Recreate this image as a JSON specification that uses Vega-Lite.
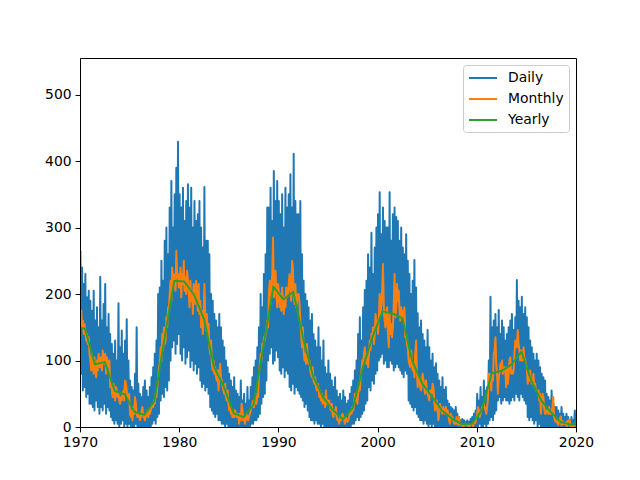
{
  "$schema": "https://vega.github.io/schema/vega-lite/v6.json",
  "width": 496,
  "height": 369,
  "autosize": {"type": "none"},
  "padding": {"left": 80, "top": 58, "right": 64, "bottom": 53},
  "background": "white",
  "config": {
    "view": {"stroke": "black", "strokeWidth": 1},
    "font": "DejaVu Sans"
  },
  "datasets": {
    "months": [
      {"t":1970.04,"d":265,"m":165},{"t":1970.13,"d":80,"m":175},{"t":1970.21,"d":240,"m":150},{"t":1970.29,"d":55,"m":160},{"t":1970.38,"d":215,"m":140},{"t":1970.46,"d":60,"m":155},{"t":1970.54,"d":230,"m":145},{"t":1970.63,"d":45,"m":130},{"t":1970.71,"d":195,"m":140},{"t":1970.79,"d":50,"m":125},{"t":1970.88,"d":205,"m":135},{"t":1970.96,"d":35,"m":110},
      {"t":1971.04,"d":190,"m":100},{"t":1971.13,"d":35,"m":85},{"t":1971.21,"d":175,"m":110},{"t":1971.29,"d":30,"m":95},{"t":1971.38,"d":205,"m":80},{"t":1971.46,"d":25,"m":105},{"t":1971.54,"d":160,"m":90},{"t":1971.63,"d":40,"m":75},{"t":1971.71,"d":180,"m":100},{"t":1971.79,"d":30,"m":85},{"t":1971.88,"d":150,"m":110},{"t":1971.96,"d":20,"m":95},
      {"t":1972.04,"d":226,"m":90},{"t":1972.13,"d":30,"m":105},{"t":1972.21,"d":160,"m":85},{"t":1972.29,"d":25,"m":115},{"t":1972.38,"d":185,"m":100},{"t":1972.46,"d":35,"m":95},{"t":1972.54,"d":215,"m":110},{"t":1972.63,"d":20,"m":80},{"t":1972.71,"d":150,"m":105},{"t":1972.79,"d":30,"m":95},{"t":1972.88,"d":170,"m":90},{"t":1972.96,"d":25,"m":100},
      {"t":1973.04,"d":140,"m":60},{"t":1973.13,"d":15,"m":70},{"t":1973.21,"d":125,"m":55},{"t":1973.29,"d":10,"m":45},{"t":1973.38,"d":110,"m":65},{"t":1973.46,"d":5,"m":50},{"t":1973.54,"d":130,"m":40},{"t":1973.63,"d":10,"m":60},{"t":1973.71,"d":100,"m":55},{"t":1973.79,"d":5,"m":45},{"t":1973.88,"d":186,"m":50},{"t":1973.96,"d":0,"m":40},
      {"t":1974.04,"d":120,"m":35},{"t":1974.13,"d":5,"m":45},{"t":1974.21,"d":145,"m":40},{"t":1974.29,"d":10,"m":50},{"t":1974.38,"d":110,"m":55},{"t":1974.46,"d":0,"m":40},{"t":1974.54,"d":130,"m":70},{"t":1974.63,"d":5,"m":65},{"t":1974.71,"d":162,"m":55},{"t":1974.79,"d":0,"m":45},{"t":1974.88,"d":100,"m":40},{"t":1974.96,"d":5,"m":50},
      {"t":1975.04,"d":70,"m":20},{"t":1975.13,"d":0,"m":15},{"t":1975.21,"d":60,"m":25},{"t":1975.29,"d":0,"m":10},{"t":1975.38,"d":55,"m":30},{"t":1975.46,"d":0,"m":20},{"t":1975.54,"d":80,"m":45},{"t":1975.63,"d":5,"m":35},{"t":1975.71,"d":150,"m":20},{"t":1975.79,"d":0,"m":15},{"t":1975.88,"d":65,"m":20},{"t":1975.96,"d":0,"m":15},
      {"t":1976.04,"d":50,"m":10},{"t":1976.13,"d":0,"m":15},{"t":1976.21,"d":45,"m":25},{"t":1976.29,"d":0,"m":30},{"t":1976.38,"d":60,"m":15},{"t":1976.46,"d":0,"m":20},{"t":1976.54,"d":70,"m":10},{"t":1976.63,"d":0,"m":15},{"t":1976.71,"d":55,"m":20},{"t":1976.79,"d":0,"m":25},{"t":1976.88,"d":45,"m":15},{"t":1976.96,"d":0,"m":25},
      {"t":1977.04,"d":60,"m":20},{"t":1977.13,"d":0,"m":25},{"t":1977.21,"d":75,"m":30},{"t":1977.29,"d":5,"m":35},{"t":1977.38,"d":90,"m":30},{"t":1977.46,"d":10,"m":40},{"t":1977.54,"d":110,"m":35},{"t":1977.63,"d":5,"m":50},{"t":1977.71,"d":130,"m":45},{"t":1977.79,"d":15,"m":60},{"t":1977.88,"d":200,"m":75},{"t":1977.96,"d":20,"m":90},
      {"t":1978.04,"d":210,"m":95},{"t":1978.13,"d":40,"m":120},{"t":1978.21,"d":250,"m":100},{"t":1978.29,"d":50,"m":140},{"t":1978.38,"d":220,"m":115},{"t":1978.46,"d":45,"m":150},{"t":1978.54,"d":280,"m":125},{"t":1978.63,"d":60,"m":130},{"t":1978.71,"d":300,"m":165},{"t":1978.79,"d":55,"m":150},{"t":1978.88,"d":260,"m":180},{"t":1978.96,"d":70,"m":175},
      {"t":1979.04,"d":330,"m":200},{"t":1979.13,"d":100,"m":220},{"t":1979.21,"d":370,"m":190},{"t":1979.29,"d":120,"m":240},{"t":1979.38,"d":300,"m":210},{"t":1979.46,"d":130,"m":230},{"t":1979.54,"d":350,"m":215},{"t":1979.63,"d":110,"m":205},{"t":1979.71,"d":390,"m":265},{"t":1979.79,"d":125,"m":225},{"t":1979.88,"d":429,"m":230},{"t":1979.96,"d":140,"m":210},
      {"t":1980.04,"d":350,"m":210},{"t":1980.13,"d":110,"m":240},{"t":1980.21,"d":330,"m":195},{"t":1980.29,"d":100,"m":230},{"t":1980.38,"d":360,"m":215},{"t":1980.46,"d":120,"m":250},{"t":1980.54,"d":310,"m":205},{"t":1980.63,"d":95,"m":225},{"t":1980.71,"d":340,"m":200},{"t":1980.79,"d":105,"m":235},{"t":1980.88,"d":365,"m":220},{"t":1980.96,"d":115,"m":205},
      {"t":1981.04,"d":330,"m":180},{"t":1981.13,"d":90,"m":220},{"t":1981.21,"d":360,"m":190},{"t":1981.29,"d":100,"m":205},{"t":1981.38,"d":300,"m":170},{"t":1981.46,"d":85,"m":215},{"t":1981.54,"d":340,"m":210},{"t":1981.63,"d":95,"m":185},{"t":1981.71,"d":310,"m":220},{"t":1981.79,"d":80,"m":200},{"t":1981.88,"d":320,"m":175},{"t":1981.96,"d":90,"m":215},
      {"t":1982.04,"d":340,"m":170},{"t":1982.13,"d":70,"m":190},{"t":1982.21,"d":300,"m":150},{"t":1982.29,"d":60,"m":175},{"t":1982.38,"d":270,"m":140},{"t":1982.46,"d":65,"m":160},{"t":1982.54,"d":361,"m":215},{"t":1982.63,"d":55,"m":165},{"t":1982.71,"d":280,"m":145},{"t":1982.79,"d":60,"m":170},{"t":1982.88,"d":280,"m":135},{"t":1982.96,"d":50,"m":155},
      {"t":1983.04,"d":260,"m":120},{"t":1983.13,"d":30,"m":110},{"t":1983.21,"d":200,"m":130},{"t":1983.29,"d":25,"m":95},{"t":1983.38,"d":190,"m":85},{"t":1983.46,"d":20,"m":100},{"t":1983.54,"d":170,"m":80},{"t":1983.63,"d":15,"m":90},{"t":1983.71,"d":160,"m":75},{"t":1983.79,"d":20,"m":70},{"t":1983.88,"d":150,"m":85},{"t":1983.96,"d":10,"m":55},
      {"t":1984.04,"d":170,"m":80},{"t":1984.13,"d":10,"m":95},{"t":1984.21,"d":150,"m":75},{"t":1984.29,"d":5,"m":70},{"t":1984.38,"d":130,"m":60},{"t":1984.46,"d":5,"m":55},{"t":1984.54,"d":120,"m":50},{"t":1984.63,"d":0,"m":65},{"t":1984.71,"d":100,"m":45},{"t":1984.79,"d":5,"m":40},{"t":1984.88,"d":90,"m":55},{"t":1984.96,"d":0,"m":35},
      {"t":1985.04,"d":80,"m":25},{"t":1985.13,"d":0,"m":30},{"t":1985.21,"d":70,"m":20},{"t":1985.29,"d":0,"m":25},{"t":1985.38,"d":60,"m":15},{"t":1985.46,"d":0,"m":20},{"t":1985.54,"d":75,"m":15},{"t":1985.63,"d":0,"m":25},{"t":1985.71,"d":55,"m":20},{"t":1985.79,"d":0,"m":15},{"t":1985.88,"d":50,"m":20},{"t":1985.96,"d":0,"m":15},
      {"t":1986.04,"d":45,"m":5},{"t":1986.13,"d":0,"m":20},{"t":1986.21,"d":70,"m":10},{"t":1986.29,"d":0,"m":35},{"t":1986.38,"d":40,"m":25},{"t":1986.46,"d":0,"m":10},{"t":1986.54,"d":50,"m":15},{"t":1986.63,"d":0,"m":5},{"t":1986.71,"d":35,"m":10},{"t":1986.79,"d":0,"m":20},{"t":1986.88,"d":60,"m":15},{"t":1986.96,"d":0,"m":10},
      {"t":1987.04,"d":40,"m":15},{"t":1987.13,"d":0,"m":20},{"t":1987.21,"d":60,"m":25},{"t":1987.29,"d":5,"m":30},{"t":1987.38,"d":75,"m":35},{"t":1987.46,"d":5,"m":40},{"t":1987.54,"d":90,"m":30},{"t":1987.63,"d":10,"m":40},{"t":1987.71,"d":100,"m":45},{"t":1987.79,"d":10,"m":35},{"t":1987.88,"d":120,"m":50},{"t":1987.96,"d":15,"m":45},
      {"t":1988.04,"d":150,"m":80},{"t":1988.13,"d":20,"m":95},{"t":1988.21,"d":200,"m":110},{"t":1988.29,"d":35,"m":100},{"t":1988.38,"d":180,"m":125},{"t":1988.46,"d":45,"m":120},{"t":1988.54,"d":230,"m":135},{"t":1988.63,"d":50,"m":130},{"t":1988.71,"d":260,"m":140},{"t":1988.79,"d":70,"m":145},{"t":1988.88,"d":330,"m":160},{"t":1988.96,"d":100,"m":150},
      {"t":1989.04,"d":330,"m":200},{"t":1989.13,"d":110,"m":220},{"t":1989.21,"d":360,"m":185},{"t":1989.29,"d":120,"m":210},{"t":1989.38,"d":310,"m":230},{"t":1989.46,"d":95,"m":285},{"t":1989.54,"d":385,"m":195},{"t":1989.63,"d":100,"m":210},{"t":1989.71,"d":340,"m":235},{"t":1989.79,"d":115,"m":200},{"t":1989.88,"d":370,"m":180},{"t":1989.96,"d":105,"m":215},
      {"t":1990.04,"d":340,"m":205},{"t":1990.13,"d":85,"m":180},{"t":1990.21,"d":320,"m":200},{"t":1990.29,"d":80,"m":175},{"t":1990.38,"d":350,"m":210},{"t":1990.46,"d":90,"m":185},{"t":1990.54,"d":300,"m":170},{"t":1990.63,"d":75,"m":195},{"t":1990.71,"d":360,"m":180},{"t":1990.79,"d":85,"m":210},{"t":1990.88,"d":330,"m":195},{"t":1990.96,"d":80,"m":200},
      {"t":1991.04,"d":350,"m":215},{"t":1991.13,"d":60,"m":230},{"t":1991.21,"d":380,"m":205},{"t":1991.29,"d":55,"m":190},{"t":1991.38,"d":330,"m":250},{"t":1991.46,"d":65,"m":240},{"t":1991.54,"d":411,"m":200},{"t":1991.63,"d":50,"m":185},{"t":1991.71,"d":340,"m":215},{"t":1991.79,"d":60,"m":180},{"t":1991.88,"d":320,"m":190},{"t":1991.96,"d":55,"m":200},
      {"t":1992.04,"d":320,"m":200},{"t":1992.13,"d":50,"m":185},{"t":1992.21,"d":340,"m":160},{"t":1992.29,"d":45,"m":140},{"t":1992.38,"d":260,"m":120},{"t":1992.46,"d":40,"m":150},{"t":1992.54,"d":220,"m":115},{"t":1992.63,"d":30,"m":100},{"t":1992.71,"d":200,"m":110},{"t":1992.79,"d":35,"m":95},{"t":1992.88,"d":190,"m":125},{"t":1992.96,"d":25,"m":100},
      {"t":1993.04,"d":180,"m":95},{"t":1993.13,"d":15,"m":100},{"t":1993.21,"d":160,"m":85},{"t":1993.29,"d":10,"m":80},{"t":1993.38,"d":170,"m":75},{"t":1993.46,"d":10,"m":90},{"t":1993.54,"d":140,"m":70},{"t":1993.63,"d":5,"m":65},{"t":1993.71,"d":130,"m":75},{"t":1993.79,"d":10,"m":60},{"t":1993.88,"d":120,"m":55},{"t":1993.96,"d":5,"m":65},
      {"t":1994.04,"d":150,"m":60},{"t":1994.13,"d":5,"m":45},{"t":1994.21,"d":120,"m":55},{"t":1994.29,"d":0,"m":40},{"t":1994.38,"d":100,"m":50},{"t":1994.46,"d":5,"m":35},{"t":1994.54,"d":130,"m":45},{"t":1994.63,"d":0,"m":40},{"t":1994.71,"d":90,"m":30},{"t":1994.79,"d":0,"m":55},{"t":1994.88,"d":80,"m":35},{"t":1994.96,"d":0,"m":40},
      {"t":1995.04,"d":100,"m":35},{"t":1995.13,"d":0,"m":40},{"t":1995.21,"d":80,"m":30},{"t":1995.29,"d":0,"m":25},{"t":1995.38,"d":70,"m":35},{"t":1995.46,"d":0,"m":20},{"t":1995.54,"d":60,"m":15},{"t":1995.63,"d":0,"m":25},{"t":1995.71,"d":75,"m":20},{"t":1995.79,"d":0,"m":30},{"t":1995.88,"d":55,"m":15},{"t":1995.96,"d":0,"m":10},
      {"t":1996.04,"d":45,"m":10},{"t":1996.13,"d":0,"m":5},{"t":1996.21,"d":50,"m":15},{"t":1996.29,"d":0,"m":10},{"t":1996.38,"d":40,"m":15},{"t":1996.46,"d":0,"m":20},{"t":1996.54,"d":55,"m":15},{"t":1996.63,"d":0,"m":10},{"t":1996.71,"d":45,"m":5},{"t":1996.79,"d":0,"m":15},{"t":1996.88,"d":35,"m":10},{"t":1996.96,"d":0,"m":8},
      {"t":1997.04,"d":40,"m":10},{"t":1997.13,"d":0,"m":15},{"t":1997.21,"d":50,"m":20},{"t":1997.29,"d":0,"m":25},{"t":1997.38,"d":60,"m":20},{"t":1997.46,"d":5,"m":30},{"t":1997.54,"d":70,"m":25},{"t":1997.63,"d":5,"m":35},{"t":1997.71,"d":85,"m":50},{"t":1997.79,"d":10,"m":40},{"t":1997.88,"d":100,"m":45},{"t":1997.96,"d":15,"m":35},
      {"t":1998.04,"d":140,"m":50},{"t":1998.13,"d":10,"m":60},{"t":1998.21,"d":165,"m":55},{"t":1998.29,"d":15,"m":75},{"t":1998.38,"d":130,"m":85},{"t":1998.46,"d":20,"m":100},{"t":1998.54,"d":180,"m":95},{"t":1998.63,"d":25,"m":110},{"t":1998.71,"d":206,"m":120},{"t":1998.79,"d":35,"m":105},{"t":1998.88,"d":220,"m":95},{"t":1998.96,"d":40,"m":110},
      {"t":1999.04,"d":260,"m":90},{"t":1999.13,"d":60,"m":110},{"t":1999.21,"d":240,"m":130},{"t":1999.29,"d":55,"m":115},{"t":1999.38,"d":292,"m":140},{"t":1999.46,"d":70,"m":135},{"t":1999.54,"d":230,"m":150},{"t":1999.63,"d":65,"m":125},{"t":1999.71,"d":270,"m":140},{"t":1999.79,"d":80,"m":170},{"t":1999.88,"d":300,"m":155},{"t":1999.96,"d":85,"m":160},
      {"t":2000.04,"d":320,"m":140},{"t":2000.13,"d":100,"m":165},{"t":2000.21,"d":353,"m":200},{"t":2000.29,"d":105,"m":170},{"t":2000.38,"d":290,"m":185},{"t":2000.46,"d":110,"m":205},{"t":2000.54,"d":330,"m":245},{"t":2000.63,"d":95,"m":175},{"t":2000.71,"d":310,"m":160},{"t":2000.79,"d":100,"m":150},{"t":2000.88,"d":300,"m":175},{"t":2000.96,"d":90,"m":180},
      {"t":2001.04,"d":300,"m":140},{"t":2001.13,"d":90,"m":120},{"t":2001.21,"d":353,"m":170},{"t":2001.29,"d":100,"m":140},{"t":2001.38,"d":280,"m":155},{"t":2001.46,"d":95,"m":135},{"t":2001.54,"d":320,"m":150},{"t":2001.63,"d":85,"m":185},{"t":2001.71,"d":330,"m":230},{"t":2001.79,"d":90,"m":165},{"t":2001.88,"d":316,"m":180},{"t":2001.96,"d":95,"m":215},
      {"t":2002.04,"d":310,"m":190},{"t":2002.13,"d":90,"m":205},{"t":2002.21,"d":280,"m":175},{"t":2002.29,"d":85,"m":160},{"t":2002.38,"d":300,"m":180},{"t":2002.46,"d":80,"m":165},{"t":2002.54,"d":270,"m":175},{"t":2002.63,"d":75,"m":160},{"t":2002.71,"d":260,"m":180},{"t":2002.79,"d":85,"m":135},{"t":2002.88,"d":290,"m":140},{"t":2002.96,"d":80,"m":125},
      {"t":2003.04,"d":250,"m":120},{"t":2003.13,"d":40,"m":100},{"t":2003.21,"d":230,"m":95},{"t":2003.29,"d":35,"m":90},{"t":2003.38,"d":200,"m":115},{"t":2003.46,"d":30,"m":100},{"t":2003.54,"d":220,"m":85},{"t":2003.63,"d":25,"m":95},{"t":2003.71,"d":251,"m":75},{"t":2003.79,"d":30,"m":110},{"t":2003.88,"d":210,"m":130},{"t":2003.96,"d":20,"m":85},
      {"t":2004.04,"d":171,"m":60},{"t":2004.13,"d":15,"m":70},{"t":2004.21,"d":150,"m":75},{"t":2004.29,"d":10,"m":60},{"t":2004.38,"d":160,"m":55},{"t":2004.46,"d":10,"m":65},{"t":2004.54,"d":140,"m":80},{"t":2004.63,"d":5,"m":70},{"t":2004.71,"d":130,"m":60},{"t":2004.79,"d":10,"m":50},{"t":2004.88,"d":120,"m":70},{"t":2004.96,"d":5,"m":55},
      {"t":2005.04,"d":146,"m":50},{"t":2005.13,"d":0,"m":45},{"t":2005.21,"d":120,"m":40},{"t":2005.29,"d":5,"m":55},{"t":2005.38,"d":100,"m":55},{"t":2005.46,"d":0,"m":50},{"t":2005.54,"d":110,"m":65},{"t":2005.63,"d":5,"m":60},{"t":2005.71,"d":90,"m":40},{"t":2005.79,"d":0,"m":25},{"t":2005.88,"d":96,"m":30},{"t":2005.96,"d":0,"m":40},
      {"t":2006.04,"d":80,"m":25},{"t":2006.13,"d":0,"m":10},{"t":2006.21,"d":70,"m":20},{"t":2006.29,"d":0,"m":35},{"t":2006.38,"d":60,"m":30},{"t":2006.46,"d":0,"m":25},{"t":2006.54,"d":75,"m":20},{"t":2006.63,"d":0,"m":30},{"t":2006.71,"d":56,"m":25},{"t":2006.79,"d":0,"m":20},{"t":2006.88,"d":60,"m":30},{"t":2006.96,"d":0,"m":20},
      {"t":2007.04,"d":40,"m":25},{"t":2007.13,"d":0,"m":20},{"t":2007.21,"d":35,"m":10},{"t":2007.29,"d":0,"m":5},{"t":2007.38,"d":30,"m":20},{"t":2007.46,"d":0,"m":15},{"t":2007.54,"d":28,"m":15},{"t":2007.63,"d":0,"m":10},{"t":2007.71,"d":25,"m":5},{"t":2007.79,"d":0,"m":5},{"t":2007.88,"d":30,"m":5},{"t":2007.96,"d":0,"m":15},
      {"t":2008.04,"d":20,"m":5},{"t":2008.13,"d":0,"m":3},{"t":2008.21,"d":15,"m":15},{"t":2008.29,"d":0,"m":5},{"t":2008.38,"d":10,"m":3},{"t":2008.46,"d":0,"m":5},{"t":2008.54,"d":12,"m":1},{"t":2008.63,"d":0,"m":1},{"t":2008.71,"d":10,"m":2},{"t":2008.79,"d":0,"m":4},{"t":2008.88,"d":8,"m":5},{"t":2008.96,"d":0,"m":3},
      {"t":2009.04,"d":10,"m":2},{"t":2009.13,"d":0,"m":3},{"t":2009.21,"d":8,"m":1},{"t":2009.29,"d":0,"m":2},{"t":2009.38,"d":12,"m":4},{"t":2009.46,"d":0,"m":4},{"t":2009.54,"d":15,"m":5},{"t":2009.63,"d":0,"m":1},{"t":2009.71,"d":20,"m":6},{"t":2009.79,"d":0,"m":6},{"t":2009.88,"d":25,"m":7},{"t":2009.96,"d":0,"m":15},
      {"t":2010.04,"d":50,"m":20},{"t":2010.13,"d":0,"m":30},{"t":2010.21,"d":40,"m":25},{"t":2010.29,"d":5,"m":15},{"t":2010.38,"d":60,"m":20},{"t":2010.46,"d":0,"m":25},{"t":2010.54,"d":45,"m":30},{"t":2010.63,"d":0,"m":30},{"t":2010.71,"d":70,"m":35},{"t":2010.79,"d":5,"m":30},{"t":2010.88,"d":55,"m":25},{"t":2010.96,"d":0,"m":20},
      {"t":2011.04,"d":60,"m":30},{"t":2011.13,"d":5,"m":45},{"t":2011.21,"d":100,"m":80},{"t":2011.29,"d":10,"m":80},{"t":2011.38,"d":196,"m":70},{"t":2011.46,"d":15,"m":55},{"t":2011.54,"d":150,"m":80},{"t":2011.63,"d":10,"m":70},{"t":2011.71,"d":160,"m":110},{"t":2011.79,"d":20,"m":115},{"t":2011.88,"d":170,"m":135},{"t":2011.96,"d":25,"m":95},
      {"t":2012.04,"d":150,"m":80},{"t":2012.13,"d":40,"m":50},{"t":2012.21,"d":176,"m":75},{"t":2012.29,"d":45,"m":80},{"t":2012.38,"d":140,"m":95},{"t":2012.46,"d":35,"m":85},{"t":2012.54,"d":160,"m":100},{"t":2012.63,"d":40,"m":80},{"t":2012.71,"d":150,"m":85},{"t":2012.79,"d":45,"m":90},{"t":2012.88,"d":130,"m":85},{"t":2012.96,"d":40,"m":60},
      {"t":2013.04,"d":140,"m":90},{"t":2013.13,"d":40,"m":65},{"t":2013.21,"d":150,"m":80},{"t":2013.29,"d":35,"m":100},{"t":2013.38,"d":160,"m":105},{"t":2013.46,"d":40,"m":80},{"t":2013.54,"d":170,"m":85},{"t":2013.63,"d":45,"m":80},{"t":2013.71,"d":146,"m":85},{"t":2013.79,"d":40,"m":110},{"t":2013.88,"d":165,"m":130},{"t":2013.96,"d":50,"m":120},
      {"t":2014.04,"d":221,"m":120},{"t":2014.13,"d":45,"m":146},{"t":2014.21,"d":190,"m":125},{"t":2014.29,"d":40,"m":115},{"t":2014.38,"d":180,"m":100},{"t":2014.46,"d":50,"m":115},{"t":2014.54,"d":196,"m":100},{"t":2014.63,"d":45,"m":100},{"t":2014.71,"d":170,"m":120},{"t":2014.79,"d":40,"m":105},{"t":2014.88,"d":180,"m":100},{"t":2014.96,"d":35,"m":95},
      {"t":2015.04,"d":165,"m":90},{"t":2015.13,"d":15,"m":65},{"t":2015.21,"d":150,"m":75},{"t":2015.29,"d":10,"m":70},{"t":2015.38,"d":130,"m":85},{"t":2015.46,"d":15,"m":70},{"t":2015.54,"d":120,"m":65},{"t":2015.63,"d":10,"m":65},{"t":2015.71,"d":110,"m":80},{"t":2015.79,"d":5,"m":60},{"t":2015.88,"d":100,"m":65},{"t":2015.96,"d":10,"m":55},
      {"t":2016.04,"d":110,"m":55},{"t":2016.13,"d":0,"m":55},{"t":2016.21,"d":100,"m":55},{"t":2016.29,"d":5,"m":40},{"t":2016.38,"d":90,"m":50},{"t":2016.46,"d":0,"m":20},{"t":2016.54,"d":80,"m":35},{"t":2016.63,"d":0,"m":50},{"t":2016.71,"d":75,"m":45},{"t":2016.79,"d":0,"m":30},{"t":2016.88,"d":70,"m":20},{"t":2016.96,"d":0,"m":20},
      {"t":2017.04,"d":50,"m":25},{"t":2017.13,"d":0,"m":25},{"t":2017.21,"d":45,"m":20},{"t":2017.29,"d":0,"m":30},{"t":2017.38,"d":40,"m":20},{"t":2017.46,"d":0,"m":20},{"t":2017.54,"d":55,"m":20},{"t":2017.63,"d":0,"m":30},{"t":2017.71,"d":35,"m":45},{"t":2017.79,"d":0,"m":15},{"t":2017.88,"d":30,"m":10},{"t":2017.96,"d":0,"m":8},
      {"t":2018.04,"d":30,"m":7},{"t":2018.13,"d":0,"m":10},{"t":2018.21,"d":25,"m":3},{"t":2018.29,"d":0,"m":9},{"t":2018.38,"d":20,"m":13},{"t":2018.46,"d":0,"m":16},{"t":2018.54,"d":30,"m":2},{"t":2018.63,"d":0,"m":9},{"t":2018.71,"d":20,"m":4},{"t":2018.79,"d":0,"m":5},{"t":2018.88,"d":15,"m":6},{"t":2018.96,"d":0,"m":3},
      {"t":2019.04,"d":20,"m":8},{"t":2019.13,"d":0,"m":1},{"t":2019.21,"d":15,"m":10},{"t":2019.29,"d":0,"m":9},{"t":2019.38,"d":10,"m":10},{"t":2019.46,"d":0,"m":1},{"t":2019.54,"d":15,"m":1},{"t":2019.63,"d":0,"m":0},{"t":2019.71,"d":10,"m":1},{"t":2019.79,"d":0,"m":0},{"t":2019.88,"d":25,"m":1},{"t":2019.96,"d":0,"m":1}
    ],
    "years": [
      {"t":1969.5,"v":150},{"t":1970.5,"v":148},{"t":1971.5,"v":94.4},{"t":1972.5,"v":97.6},{"t":1973.5,"v":54.1},{"t":1974.5,"v":49.2},{"t":1975.5,"v":22.5},{"t":1976.5,"v":18.4},{"t":1977.5,"v":39.3},{"t":1978.5,"v":131},{"t":1979.5,"v":220.1},{"t":1980.5,"v":218.9},{"t":1981.5,"v":198.9},{"t":1982.5,"v":162.4},{"t":1983.5,"v":91},{"t":1984.5,"v":60.5},{"t":1985.5,"v":20.6},{"t":1986.5,"v":14.8},{"t":1987.5,"v":33.9},{"t":1988.5,"v":123},{"t":1989.5,"v":211.1},{"t":1990.5,"v":191.8},{"t":1991.5,"v":203.3},{"t":1992.5,"v":133},{"t":1993.5,"v":76.1},{"t":1994.5,"v":44.9},{"t":1995.5,"v":25.1},{"t":1996.5,"v":11.6},{"t":1997.5,"v":28.9},{"t":1998.5,"v":88.3},{"t":1999.5,"v":136.3},{"t":2000.5,"v":173.9},{"t":2001.5,"v":170.4},{"t":2002.5,"v":163.6},{"t":2003.5,"v":99.3},{"t":2004.5,"v":65.3},{"t":2005.5,"v":45.8},{"t":2006.5,"v":24.7},{"t":2007.5,"v":12.6},{"t":2008.5,"v":4.2},{"t":2009.5,"v":4.8},{"t":2010.5,"v":24.9},{"t":2011.5,"v":80.8},{"t":2012.5,"v":84.5},{"t":2013.5,"v":94},{"t":2014.5,"v":113.3},{"t":2015.5,"v":69.8},{"t":2016.5,"v":39.8},{"t":2017.5,"v":21.7},{"t":2018.5,"v":7},{"t":2019.5,"v":3.6},{"t":2020.5,"v":8.8}
    ]
  },
  "encoding": {
    "x": {
      "field": "t",
      "type": "quantitative",
      "scale": {"domain": [1970, 2020], "nice": false, "zero": false},
      "axis": {
        "title": null,
        "values": [1970, 1980, 1990, 2000, 2010, 2020],
        "format": "d",
        "grid": false,
        "zindex": 1,
        "domainColor": "black",
        "domainWidth": 1,
        "tickColor": "black",
        "tickSize": 4.9,
        "tickWidth": 1,
        "labelFont": "DejaVu Sans",
        "labelFontSize": 13.9,
        "labelColor": "black",
        "labelPadding": 4,
        "labelFlush": false
      }
    }
  },
  "layer": [
    {
      "data": {"name": "months"},
      "mark": {"type": "line", "clip": true, "strokeWidth": 2, "strokeJoin": "round"},
      "encoding": {
        "y": {
          "field": "d",
          "type": "quantitative",
          "scale": {"domain": [0, 555], "nice": false},
          "axis": {
            "title": null,
            "values": [0, 100, 200, 300, 400, 500],
            "grid": false,
            "zindex": 1,
            "domainColor": "black",
            "domainWidth": 1,
            "tickColor": "black",
            "tickSize": 4.9,
            "tickWidth": 1,
            "labelFont": "DejaVu Sans",
            "labelFontSize": 13.9,
            "labelColor": "black",
            "labelPadding": 4
          }
        },
        "color": {
          "datum": "Daily",
          "type": "nominal",
          "scale": {"domain": ["Daily", "Monthly", "Yearly"], "range": ["#1f77b4", "#ff7f0e", "#2ca02c"]},
          "legend": {
            "title": null,
            "orient": "none",
            "legendX": 383,
            "legendY": 7,
            "symbolType": "M-1,0H3",
            "symbolSize": 196,
            "symbolStrokeWidth": 2,
            "labelFont": "DejaVu Sans",
            "labelFontSize": 13.9,
            "labelColor": "black",
            "labelOffset": 24,
            "fillColor": "white",
            "strokeColor": "#cccccc",
            "cornerRadius": 3,
            "padding": 5,
            "rowPadding": 6
          }
        }
      }
    },
    {
      "data": {"name": "months"},
      "mark": {"type": "line", "clip": true, "strokeWidth": 2, "strokeJoin": "round"},
      "encoding": {
        "y": {"field": "m", "type": "quantitative", "title": null},
        "color": {"datum": "Monthly", "type": "nominal"}
      }
    },
    {
      "data": {"name": "years"},
      "mark": {"type": "line", "clip": true, "strokeWidth": 2, "strokeJoin": "round"},
      "encoding": {
        "y": {"field": "v", "type": "quantitative", "title": null},
        "color": {"datum": "Yearly", "type": "nominal"}
      }
    }
  ]
}
